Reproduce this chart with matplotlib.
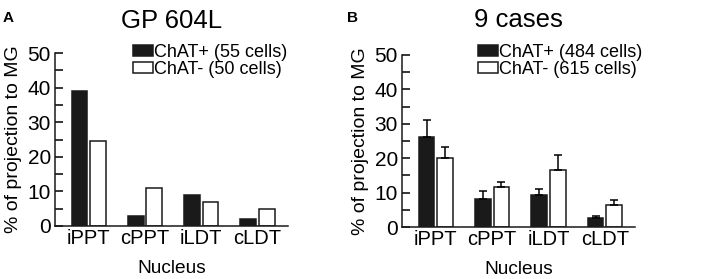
import numpy as np
import matplotlib
matplotlib.use('Agg')
import matplotlib.pyplot as plt

plt.rcParams['font.family'] = ['Liberation Sans', 'DejaVu Sans']

nuclei = ['iPPT', 'cPPT', 'iLDT', 'cLDT']

# panel A: GP 604L
a_pos = [38.9, 2.9, 9.0, 2.0]
a_neg = [24.7, 11.0, 7.0, 5.0]

# panel B: 9 cases (mean + upper error)
b_pos = [26.2, 8.1, 9.3, 2.6]
b_neg = [20.0, 11.7, 16.6, 6.4]
b_pos_err = [4.9, 2.5, 1.7, 0.7]
b_neg_err = [3.3, 1.5, 4.4, 1.4]

fig = plt.figure(figsize=(7.09, 2.79), dpi=100)

def draw_panel(ax, pos, neg, pos_err=None, neg_err=None):
    x = np.arange(len(nuclei))
    w = 0.28
    off = 0.165
    ekw = dict(lw=1.1, capthick=1.1)
    ax.bar(x - off, pos, w, color='#1a1a1a', edgecolor='#1a1a1a', linewidth=1.1,
           yerr=None if pos_err is None else [np.zeros(len(pos)), pos_err],
           capsize=3, error_kw=ekw, label='pos')
    ax.bar(x + off, neg, w, color='white', edgecolor='#1a1a1a', linewidth=1.1,
           yerr=None if neg_err is None else [np.zeros(len(neg)), neg_err],
           capsize=3, error_kw=ekw, label='neg')
    ax.set_xlim(-0.6, 3.54)
    ax.set_ylim(0, 50)
    ax.set_yticks(range(0, 51, 10))
    ax.set_yticks(range(5, 50, 10), minor=True)
    ax.tick_params(axis='y', which='both', direction='in', length=6, width=1.1,
                   labelsize=15, pad=3)
    ax.tick_params(axis='x', length=0, labelsize=14.5, pad=2)
    ax.set_xticks(x)
    ax.set_xticklabels(nuclei)
    for s in ['top', 'right']:
        ax.spines[s].set_visible(False)
    for s in ['left', 'bottom']:
        ax.spines[s].set_linewidth(1.1)
        ax.spines[s].set_color('#1a1a1a')
    ax.set_ylabel('% of projection to MG', fontsize=14, labelpad=4)
    ax.set_xlabel('Nucleus', fontsize=13.8, labelpad=9)

leg_kw = dict(loc='upper left', bbox_transform=fig.transFigure, frameon=False,
              fontsize=13, handlelength=1.1, handleheight=0.55,
              handletextpad=0.08, labelspacing=0.0, borderpad=0, borderaxespad=0)

axA = fig.add_axes([0.0776, 0.19, 0.3284, 0.62])
draw_panel(axA, a_pos, a_neg)
axA.set_title('GP 604L', fontsize=18.5, pad=18)
h, _ = axA.get_legend_handles_labels()
axA.legend(h, ['ChAT+ (55 cells)', 'ChAT- (50 cells)'],
           bbox_to_anchor=(0.1876, 0.842), **leg_kw)

axB = fig.add_axes([0.567, 0.186, 0.329, 0.617])
draw_panel(axB, b_pos, b_neg, b_pos_err, b_neg_err)
axB.set_title('9 cases', fontsize=18.5, pad=20)
h, _ = axB.get_legend_handles_labels()
axB.legend(h, ['ChAT+ (484 cells)', 'ChAT- (615 cells)'],
           bbox_to_anchor=(0.674, 0.842), **leg_kw)

fig.text(0.003, 0.935, 'A', fontsize=11, fontweight='bold', va='center')
fig.text(0.489, 0.937, 'B', fontsize=11, fontweight='bold', va='center')

fig.savefig('out.png', dpi=100)
